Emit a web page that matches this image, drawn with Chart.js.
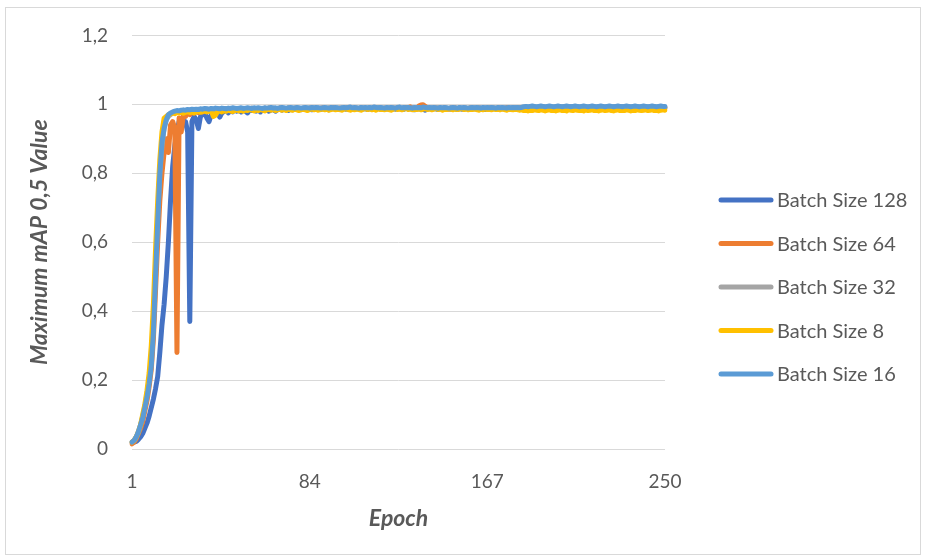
<!DOCTYPE html>
<html><head><meta charset="utf-8">
<script src="https://cdn.jsdelivr.net/npm/chart.js@4.4.1/dist/chart.umd.min.js"></script>
<style>html,body{margin:0;padding:0;background:#fff}#wrap{width:926px;height:560px;position:relative}</style>
</head><body><div id="wrap"><canvas id="c" width="926" height="560"></canvas></div>
<script>
const epochs = Array.from({length: 250}, (_, i) => i + 1);
const xTickLabels = ['1', '84', '167', '250'];
const seriesNames = ['Batch Size 128', 'Batch Size 64', 'Batch Size 32', 'Batch Size 8', 'Batch Size 16'];
const seriesColors = ['#4472C4', '#ED7D31', '#A5A5A5', '#FFC000', '#5B9BD5'];

const bs128 = [
.02,.02,.022,.028,.035,.045,.06,.075,.095,.12,
.145,.175,.21,.28,.36,.42,.5,.6,.72,.82,
.88,.92,.95,.955,.94,.95,.92,.37,.95,.965,
.955,.93,.965,.97,.975,.96,.95,.97,.975,.97,
.975,.963,.975,.98,.985,.975,.982,.978,.985,.98,
.984,.978,.986,.98,.975,.985,.982,.986,.98,.984,
.978,.985,.982,.987,.98,.984,.986,.98,.985,.987,
.983,.986,.988,.982,.986,.984,.988,.985,.987,.984,
.987,.985,.988,.986,.984,.988,.986,.989,.985,.987,
.988,.986,.984,.987,.989,.986,.988,.985,.987,.989,
.986,.988,.99,.987,.985,.988,.986,.989,.987,.988,
.985,.988,.987,.989,.986,.988,.99,.987,.986,.989,
.987,.985,.988,.986,.989,.987,.988,.986,.989,.987,
.988,.986,.984,.988,.987,.989,.986,.983,.987,.988,
.986,.989,.987,.985,.988,.986,.989,.987,.988,.986,
.989,.987,.985,.988,.986,.989,.987,.988,.986,.989,
.987,.988,.986,.989,.987,.985,.988,.986,.989,.987,
.988,.986,.989,.987,.988,.99,.988,.989,.987,.99,
.988,.99,.991,.99,.992,.991,.99,.992,.991,.99,
.991,.99,.992,.991,.99,.992,.991,.99,.992,.991,
.99,.991,.992,.99,.991,.992,.991,.99,.992,.991,
.99,.992,.991,.99,.991,.992,.99,.991,.992,.991,
.99,.991,.992,.991,.99,.992,.991,.99,.991,.992,
.991,.99,.992,.991,.99,.991,.992,.991,.99,.991,
.992,.991,.99,.991,.992,.991,.99,.992,.991,.991];

const bs64 = [
.015,.02,.03,.045,.06,.08,.11,.14,.18,.23,
.32,.46,.6,.72,.8,.86,.9,.86,.94,.95,
.93,.28,.96,.92,.97,.965,.975,.97,.978,.975,
.98,.976,.982,.978,.984,.98,.983,.985,.98,.984,
.982,.986,.983,.985,.987,.984,.986,.983,.987,.985,
.986,.988,.984,.987,.985,.988,.986,.984,.988,.986,
.987,.985,.988,.986,.989,.987,.985,.988,.986,.989,
.987,.988,.986,.989,.987,.985,.988,.99,.987,.988,
.986,.989,.987,.988,.99,.987,.989,.986,.988,.99,
.988,.986,.989,.987,.99,.988,.986,.989,.987,.988,
.99,.987,.989,.988,.986,.989,.987,.99,.988,.989,
.987,.989,.988,.99,.987,.989,.988,.986,.989,.987,
.988,.99,.987,.989,.988,.99,.987,.989,.991,.988,
.993,.989,.99,.988,.995,.998,.999,.994,.99,.988,
.989,.987,.99,.988,.989,.987,.99,.988,.986,.989,
.988,.99,.987,.989,.988,.986,.989,.987,.99,.988,
.989,.987,.99,.988,.986,.989,.988,.99,.987,.989,
.988,.99,.987,.989,.988,.99,.989,.987,.99,.988,
.989,.99,.988,.99,.989,.991,.99,.988,.99,.989,
.99,.988,.99,.989,.991,.99,.989,.99,.988,.99,
.989,.99,.991,.989,.99,.988,.99,.989,.991,.99,
.988,.99,.989,.991,.99,.989,.99,.988,.99,.989,
.991,.99,.989,.99,.988,.99,.991,.989,.99,.989,
.99,.988,.99,.989,.991,.99,.989,.99,.988,.99,
.989,.991,.99,.989,.99,.988,.99,.989,.99,.99];

const bs32 = [
.02,.025,.035,.05,.07,.095,.125,.16,.2,.26,
.37,.52,.67,.8,.88,.93,.955,.965,.97,.975,
.977,.979,.978,.981,.98,.982,.981,.983,.982,.984,
.983,.985,.984,.983,.985,.986,.984,.986,.985,.987,
.986,.985,.987,.986,.988,.986,.987,.985,.988,.987,
.986,.988,.987,.985,.988,.986,.989,.987,.988,.986,
.988,.987,.989,.986,.988,.987,.989,.988,.986,.989,
.987,.988,.986,.989,.988,.987,.989,.986,.988,.987,
.989,.987,.988,.99,.987,.989,.988,.986,.989,.988,
.987,.989,.988,.99,.987,.988,.989,.987,.99,.988,
.989,.987,.99,.988,.989,.987,.988,.99,.989,.987,
.988,.99,.987,.989,.988,.99,.987,.989,.988,.986,
.989,.988,.99,.987,.989,.988,.986,.989,.988,.99,
.987,.989,.988,.99,.987,.988,.989,.987,.99,.988,
.989,.987,.988,.99,.989,.987,.988,.989,.987,.99,
.988,.989,.987,.99,.988,.986,.989,.988,.99,.987,
.989,.988,.99,.987,.989,.988,.986,.989,.988,.99,
.988,.989,.987,.99,.988,.989,.987,.988,.99,.989,
.988,.99,.989,.991,.99,.989,.991,.99,.989,.991,
.99,.989,.991,.99,.992,.99,.989,.991,.99,.991,
.99,.992,.991,.99,.991,.989,.991,.99,.992,.991,
.99,.991,.989,.991,.99,.992,.991,.99,.991,.99,
.991,.99,.992,.991,.99,.991,.989,.991,.99,.992,
.991,.99,.991,.99,.992,.991,.99,.991,.989,.991,
.99,.992,.991,.99,.991,.99,.992,.991,.99,.991];

const bs8 = [
.02,.025,.035,.05,.07,.1,.13,.17,.22,.3,
.42,.58,.72,.84,.92,.96,.965,.97,.972,.975,
.973,.976,.975,.978,.974,.977,.979,.976,.978,.975,
.978,.98,.977,.979,.981,.978,.98,.982,.965,.968,
.979,.981,.978,.982,.98,.983,.981,.979,.982,.984,
.981,.983,.98,.984,.982,.985,.983,.981,.984,.982,
.985,.983,.981,.984,.986,.983,.985,.982,.984,.986,
.983,.985,.982,.986,.984,.983,.986,.984,.982,.985,
.986,.984,.982,.985,.987,.984,.986,.983,.985,.987,
.984,.986,.983,.985,.987,.984,.986,.985,.983,.986,
.987,.985,.983,.986,.984,.987,.985,.983,.986,.988,
.985,.987,.984,.986,.983,.987,.985,.986,.984,.987,
.985,.983,.986,.988,.985,.987,.984,.986,.988,.985,
.987,.984,.986,.985,.987,.984,.986,.988,.985,.987,
.984,.986,.988,.985,.987,.983,.986,.985,.987,.986,
.984,.987,.985,.986,.988,.985,.987,.984,.986,.985,
.987,.985,.983,.986,.984,.987,.985,.986,.984,.987,
.985,.986,.984,.987,.985,.983,.986,.985,.984,.986,
.985,.983,.984,.982,.983,.981,.983,.982,.984,.983,
.982,.984,.983,.981,.983,.984,.982,.983,.981,.983,
.984,.982,.983,.981,.984,.983,.982,.984,.983,.982,
.983,.981,.984,.982,.983,.984,.982,.983,.981,.983,
.984,.982,.983,.984,.982,.981,.983,.984,.982,.983,
.982,.984,.983,.981,.983,.982,.984,.983,.982,.983,
.984,.982,.983,.984,.982,.983,.981,.983,.984,.983];

const bs16 = [
.02,.025,.035,.05,.07,.09,.12,.15,.19,.24,
.34,.5,.66,.8,.89,.93,.955,.97,.975,.978,
.98,.982,.981,.983,.984,.983,.985,.984,.986,.985,
.986,.985,.987,.986,.988,.987,.986,.988,.987,.989,
.988,.987,.989,.988,.987,.989,.988,.99,.989,.988,
.989,.99,.988,.989,.99,.989,.988,.99,.989,.99,
.989,.988,.99,.989,.99,.991,.989,.99,.988,.99,
.991,.99,.989,.99,.991,.99,.989,.991,.99,.989,
.99,.991,.99,.989,.991,.99,.991,.99,.989,.99,
.991,.99,.989,.991,.99,.991,.99,.989,.99,.991,
.99,.991,.992,.99,.991,.99,.989,.991,.99,.991,
.99,.991,.99,.992,.991,.99,.991,.99,.989,.991,
.99,.991,.99,.989,.991,.992,.99,.991,.99,.991,
.99,.989,.991,.99,.991,.99,.992,.991,.99,.991,
.99,.991,.99,.989,.991,.99,.991,.99,.989,.99,
.991,.99,.989,.991,.99,.991,.99,.989,.99,.991,
.99,.991,.99,.989,.991,.99,.991,.99,.991,.99,
.989,.991,.99,.991,.99,.989,.991,.99,.991,.99,
.991,.99,.991,.993,.994,.993,.994,.995,.994,.993,
.994,.995,.994,.993,.994,.995,.994,.993,.994,.995,
.994,.993,.994,.995,.994,.993,.994,.995,.994,.993,
.994,.995,.994,.993,.994,.995,.994,.993,.994,.995,
.994,.993,.994,.995,.994,.993,.994,.995,.994,.993,
.994,.995,.994,.993,.994,.995,.994,.993,.994,.995,
.994,.993,.994,.995,.994,.993,.994,.995,.994,.994];

const seriesValues = [bs128, bs64, bs32, bs8, bs16];
const drawOrder = [5, 4, 3, 2, 1];

const FONT = 'Lato, "Open Sans", sans-serif';
const TEXT = '#595959';

const framePlugin = {
  id: 'frame',
  beforeDraw(chart) {
    const c = chart.ctx;
    c.save();
    c.fillStyle = '#fff';
    c.fillRect(0, 0, chart.width, chart.height);
    c.strokeStyle = '#d9d9d9';
    c.lineWidth = 1;
    c.strokeRect(5.5, 7.5, 915, 547);
    c.restore();
  }
};

const legendPlugin = {
  id: 'sideLegend',
  afterDraw(chart) {
    const c = chart.ctx;
    c.save();
    chart.data.datasets.forEach((ds, i) => {
      const y = 200 + i * 43.5;
      c.strokeStyle = ds.borderColor;
      c.lineWidth = 5;
      c.lineCap = 'round';
      c.beginPath();
      c.moveTo(721, y);
      c.lineTo(771, y);
      c.stroke();
      c.fillStyle = TEXT;
      c.font = '20px ' + FONT;
      c.textBaseline = 'middle';
      c.textAlign = 'left';
      c.fillText(ds.label, 777, y + 1);
    });
    c.restore();
  }
};

new Chart(document.getElementById('c'), {
  type: 'line',
  data: {
    labels: epochs,
    datasets: seriesNames.map((name, i) => ({
      label: name,
      data: seriesValues[i],
      borderColor: seriesColors[i],
      backgroundColor: seriesColors[i],
      borderWidth: 5,
      pointRadius: 0,
      pointHoverRadius: 0,
      tension: 0,
      borderCapStyle: 'round',
      borderJoinStyle: 'round',
      fill: false,
      order: drawOrder[i]
    }))
  },
  options: {
    responsive: false,
    animation: false,
    devicePixelRatio: 1,
    layout: { padding: { top: 35, right: 261, bottom: 0, left: 0 } },
    plugins: { legend: { display: false }, tooltip: { enabled: false } },
    scales: {
      x: {
        type: 'category',
        grid: { display: false },
        border: { display: false },
        ticks: {
          autoSkip: false, maxRotation: 0, padding: 13, color: TEXT,
          font: { family: FONT, size: 19 },
          callback: function(v, i) {
            const lab = String(epochs[i]);
            return xTickLabels.includes(lab) ? lab : null;
          }
        },
        title: {
          display: true, text: 'Epoch', color: TEXT,
          font: { family: FONT, size: 23, weight: 'bold', style: 'italic' },
          padding: { top: 0, bottom: 28 }
        },
        afterFit(scale) { scale.height = 111; }
      },
      y: {
        min: 0, max: 1.2,
        grid: { color: '#d9d9d9', lineWidth: 1, drawTicks: false },
        border: { display: false },
        ticks: {
          stepSize: 0.2, padding: 24, color: TEXT,
          font: { family: FONT, size: 19 },
          callback: v => String(+Number(v).toFixed(1)).replace('.', ',')
        },
        title: {
          display: true, text: 'Maximum mAP 0,5 Value', color: TEXT,
          font: { family: FONT, size: 23, weight: 'bold', style: 'italic' },
          padding: { top: 26, bottom: 0 }
        },
        afterFit(scale) { scale.width = 132; }
      }
    }
  },
  plugins: [framePlugin, legendPlugin]
});
</script>
</body></html>
